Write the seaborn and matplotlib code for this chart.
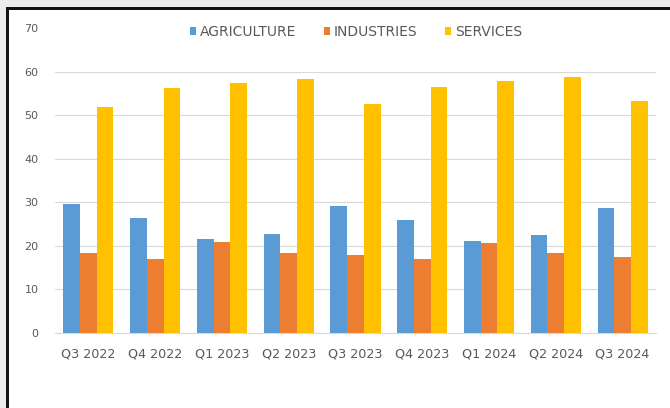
import matplotlib
matplotlib.use("Agg")
import matplotlib.pyplot as plt
import seaborn as sns
import pandas as pd
from matplotlib.patches import Rectangle

quarters = ["Q3 2022", "Q4 2022", "Q1 2023", "Q2 2023", "Q3 2023",
            "Q4 2023", "Q1 2024", "Q2 2024", "Q3 2024"]
agriculture = [29.6, 26.5, 21.5, 22.8, 29.1, 26.0, 21.0, 22.4, 28.6]
industries = [18.3, 17.0, 20.9, 18.3, 17.9, 17.0, 20.6, 18.3, 17.5]
services = [52.0, 56.2, 57.5, 58.3, 52.6, 56.5, 57.9, 58.8, 53.4]
series_names = ["AGRICULTURE", "INDUSTRIES", "SERVICES"]
colors = ["#5B9BD5", "#ED7D31", "#FFC000"]

rows = []
for name, vals in zip(series_names, [agriculture, industries, services]):
    for q, v in zip(quarters, vals):
        rows.append({"quarter": q, "sector": name, "value": v})
df = pd.DataFrame(rows)

sns.set_theme(style="white")
plt.rcParams["font.family"] = ["DejaVu Sans"]

W, H = 670, 408
fig = plt.figure(figsize=(W / 100, H / 100), dpi=100)
fig.patch.set_facecolor("white")

# outer gray margin and black frame (top & left)
fig.patches.append(Rectangle((0, 1 - 7 / H), 1, 7 / H, transform=fig.transFigure,
                             facecolor="#ebebeb", edgecolor="none", zorder=0))
fig.patches.append(Rectangle((0, 0), 6 / W, 1, transform=fig.transFigure,
                             facecolor="#ebebeb", edgecolor="none", zorder=0))
fig.patches.append(Rectangle((6 / W, 1 - 10 / H), 1 - 6 / W, 3 / H, transform=fig.transFigure,
                             facecolor="#111111", edgecolor="none", zorder=1))
fig.patches.append(Rectangle((6 / W, 0), 3 / W, 1 - 7 / H, transform=fig.transFigure,
                             facecolor="#111111", edgecolor="none", zorder=1))

left, right = 55 / W, 656 / W
bottom = (H - 332.7) / H
top = (H - 28.5) / H
ax = fig.add_axes([left, bottom, right - left, top - bottom])
ax.set_facecolor("none")

sns.barplot(data=df, x="quarter", y="value", hue="sector", palette=colors,
            width=0.75, saturation=1, ax=ax, legend=True, zorder=3,
            linewidth=0, edgecolor="none")

ax.set_ylim(0, 70)
ax.set_yticks(range(0, 71, 10))
for y in range(10, 61, 10):
    ax.axhline(y, color="#d9d9d9", lw=0.8, zorder=0)
ax.set_xlabel("")
ax.set_ylabel("")
for s in ["top", "right", "left"]:
    ax.spines[s].set_visible(False)
ax.spines["bottom"].set_color("#d9d9d9")
ax.spines["bottom"].set_linewidth(0.8)
ax.tick_params(axis="both", length=0, colors="#595959")
ax.tick_params(axis="y", pad=12, labelsize=8)
ax.tick_params(axis="x", pad=11, labelsize=9.2)
ax.set_xlim(-0.5, len(quarters) - 0.5)

handles, labels = ax.get_legend_handles_labels()
ax.legend(handles, labels, loc="center", bbox_to_anchor=(356 / W, (H - 32) / H),
          bbox_transform=fig.transFigure, ncol=3, frameon=False, fontsize=10,
          labelcolor="#595959", handlelength=0.45, handleheight=0.45,
          handletextpad=0.3, columnspacing=1.95, borderpad=0)

fig.savefig("out.png", dpi=100)
